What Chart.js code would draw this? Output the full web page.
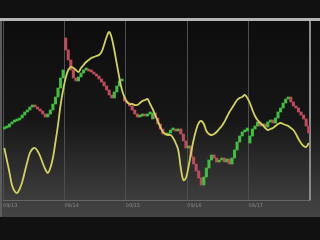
<!DOCTYPE html>
<html>
<head>
<meta charset="utf-8">
<script src="https://cdn.jsdelivr.net/npm/chart.js@4"></script>
<style>
html,body{margin:0;padding:0;background:#111;}
#wrap{width:320px;height:240px;}
</style>
</head>
<body>
<div id="wrap"><canvas id="c" width="320" height="240"></canvas></div>
<script>
const tickLabels = ['09/13', '09/14', '09/15', '09/16', '09/17'];

const opens = [
  71,72,73,76,78,79,80,82,85,88,
  90,93,94,93,91,89,86,83,86,90,
  96,103,112,122,162,150,140,130,122,119,
  123,127,130,131,129,128,126,124,121,118,
  114,110,105,102,108,114,119,103,99,97,
  94,90,86,83,84,85,84,86,81,87,
  82,76,71,66,65,67,70,71,69,71,
  66,59,52,54,43,36,29,22,15,23,
  32,40,45,42,38,40,42,38,41,36,
  42,50,58,64,68,69,57,64,71,74,
  78,74,76,73,78,80,77,82,88,92,
  97,101,103,98,94,92,88,85,81,74];
const closes = [
  72,73,76,78,79,80,82,85,88,90,
  93,94,93,91,89,86,83,86,90,96,
  103,112,122,130,150,140,130,122,119,123,
  127,130,131,129,128,126,124,121,118,114,
  110,105,102,108,114,119,120,99,97,94,
  90,86,83,84,85,84,86,87,87,82,
  76,71,66,65,67,70,71,69,71,66,
  59,52,54,43,36,29,22,15,23,32,
  40,45,42,38,40,42,38,41,36,42,
  50,58,64,68,69,72,64,71,74,78,
  74,76,73,78,80,77,82,88,92,97,
  101,103,98,94,92,88,85,81,74,67];
const signal = [
  52,40,28,15,9,7,11,18,28,38,
  47,51,52,49,44,37,31,27,32,42,
  58,75,95,110,122,130,133,132,130,128,
  132,135,138,140,142,143,144,145,148,155,
  163,168,162,150,136,122,110,103,98,96,
  96,95,95,97,99,100,101,96,91,85,
  79,73,68,66,65,65,62,57,50,32,
  20,22,33,47,60,70,77,79,76,69,
  66,65,66,68,71,74,78,83,88,92,
  96,100,102,103,105,102,97,90,84,80,
  77,75,72,70,71,72,74,76,77,76,
  75,74,72,70,66,61,57,54,53,57];

const UP = '#3fbf3f', DOWN = '#bf4c5a';

const candleData = opens.map((o, i) => ({ x: i + 0.5, y: [o, closes[i]] }));
const candleColors = opens.map((o, i) => closes[i] >= o ? UP : DOWN);
const signalData = signal.map((v, i) => ({ x: i + 0.5, y: v }));

const bgPlugin = {
  id: 'bg',
  beforeDraw(chart) {
    const ctx = chart.ctx;
    ctx.save();
    ctx.fillStyle = '#111111';
    ctx.fillRect(0, 0, 320, 240);
    const g = ctx.createLinearGradient(0, 21, 0, 217);
    g.addColorStop(0, '#0d0d0d');
    g.addColorStop(0.5, '#161616');
    g.addColorStop(1, '#454545');
    ctx.fillStyle = g;
    ctx.fillRect(0, 21, 320, 196);
    ctx.fillStyle = '#b5b5b5';
    ctx.fillRect(0, 18, 320, 3);
    ctx.fillStyle = '#5c5c5c';
    ctx.fillRect(0, 21, 2, 196);
    ctx.restore();
  }
};

new Chart(document.getElementById('c'), {
  type: 'bar',
  data: {
    datasets: [
      {
        type: 'line',
        data: signalData,
        borderColor: '#d2d25e',
        borderWidth: 1.8,
        pointRadius: 0,
        tension: 0.4,
        fill: false,
        order: 0
      },
      {
        type: 'bar',
        data: candleData,
        backgroundColor: candleColors,
        borderWidth: 0,
        barThickness: 2.4,
        minBarLength: 2,
        order: 1
      }
    ]
  },
  options: {
    responsive: false,
    animation: false,
    devicePixelRatio: 1,
    layout: { padding: { top: 21, left: 2, right: 10, bottom: 28 } },
    plugins: { legend: { display: false }, tooltip: { enabled: false } },
    scales: {
      x: {
        type: 'linear',
        min: 0,
        max: 120,
        offset: false,
        grid: {
          offset: false,
          drawTicks: false,
          color: (c) => c.tick && c.tick.value === 120 ? '#8a8a8a' : '#4e4e4e',
          lineWidth: (c) => c.tick && c.tick.value === 120 ? 2 : 1
        },
        border: { display: true, color: '#666666', width: 1 },
        ticks: {
          stepSize: 24,
          align: 'start',
          padding: 3,
          color: '#8a8a8a',
          font: { family: 'DejaVu Sans', size: 5 },
          maxRotation: 0,
          autoSkip: false,
          callback: (v) => tickLabels[v / 24] || ''
        }
      },
      y: {
        display: false,
        min: 0,
        max: 179
      }
    }
  },
  plugins: [bgPlugin]
});
</script>
</body>
</html>
